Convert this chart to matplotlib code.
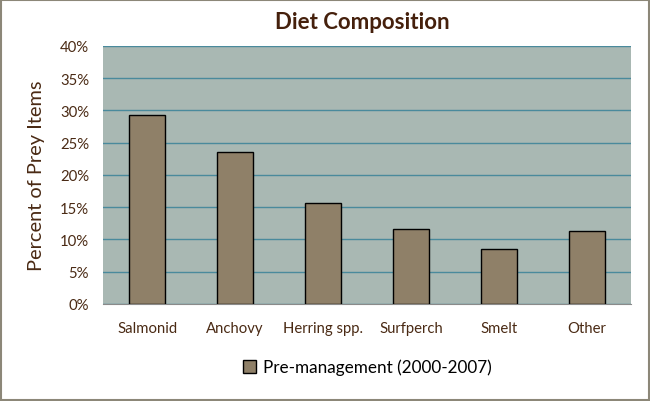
import matplotlib
matplotlib.use("Agg")
import matplotlib.pyplot as plt
from matplotlib.patches import Rectangle
from matplotlib.ticker import PercentFormatter

categories = ["Salmonid", "Anchovy", "Herring spp.", "Surfperch", "Smelt", "Other"]
pre_management = [29.3, 23.5, 15.6, 11.7, 8.5, 11.3]
series_label = "Pre-management (2000-2007)"
y_ticks = [0, 5, 10, 15, 20, 25, 30, 35, 40]

text_color = "#4a2a14"
plt.rcParams["font.family"] = ["Lato", "DejaVu Sans"]

fig = plt.figure(figsize=(6.5, 4.02), dpi=100)
fig.patch.set_facecolor("white")
fig.patches.append(Rectangle((0.002, 0.003), 0.996, 0.994, transform=fig.transFigure,
                             fill=False, edgecolor="#8c8778", linewidth=1.5))

ax = fig.add_axes([0.1585, 0.2413, 0.8123, 0.6418])
ax.set_facecolor("#a9b8b3")
x = range(len(categories))
bars = ax.bar(x, pre_management, width=0.4, color="#8f8068", edgecolor="black",
              linewidth=1.0, zorder=3, label=series_label)

ax.set_xlim(-0.5, len(categories) - 0.5)
ax.set_ylim(0, 40)
ax.set_yticks(y_ticks)
ax.yaxis.set_major_formatter(PercentFormatter(decimals=0))
ax.grid(axis="y", color="#4a8a9c", linewidth=1.0, zorder=1)
ax.set_axisbelow(True)
ax.set_xticks(list(x))
ax.set_xticklabels(categories)
ax.tick_params(axis="both", length=0, labelsize=10.7, labelcolor=text_color)
ax.tick_params(axis="x", pad=12)
ax.tick_params(axis="y", pad=10)
for side in ["top", "right", "left"]:
    ax.spines[side].set_visible(False)
ax.spines["bottom"].set_color("#8a8a8a")

ax.set_ylabel("Percent of Prey Items", fontsize=14.4, color=text_color, labelpad=11)
fig.text(0.557, 0.943, "Diet Composition", ha="center", va="center",
         fontsize=16, fontweight="bold", color="#45200c")

fig.legend(handles=[bars], labels=[series_label], loc="center",
           bbox_to_anchor=(0.565, 0.085), frameon=False, fontsize=12.3,
           handlelength=0.8, handleheight=0.8, handletextpad=0.4,
           labelcolor="black")

fig.savefig("out.png", dpi=100)
